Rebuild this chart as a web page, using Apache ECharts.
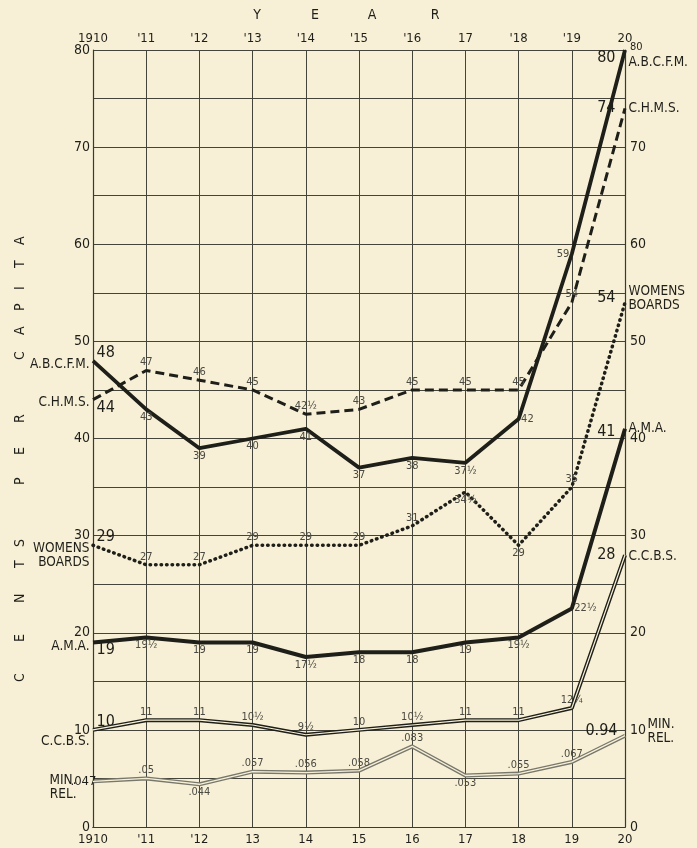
<!DOCTYPE html>
<html>
<head>
<meta charset="utf-8">
<script src="https://cdn.jsdelivr.net/npm/echarts@6/dist/echarts.min.js"></script>
<style>
  html, body { margin: 0; padding: 0; background: #f7f0d6; }
  #chart { width: 697px; height: 848px; }
</style>
</head>
<body>
<div id="chart"></div>
<script>
const years = [1910, 1911, 1912, 1913, 1914, 1915, 1916, 1917, 1918, 1919, 1920]
const topLabels = ['1910', "'11", "'12", "'13", "'14", "'15", "'16", '17', "'18", "'19", '20']
const bottomLabels = ['1910', "'11", "'12", '13', '14', '15', '16', '17', '18', '19', '20']

// cents per capita
const abcfm = [48, 43, 39, 40, 41, 37, 38, 37.5, 42, 59, 80]
const chms = [44, 47, 46, 45, 42.5, 43, 45, 45, 45, 54, 74]
const womensBoards = [29, 27, 27, 29, 29, 29, 31, 34.5, 29, 35, 54]
const ama = [19, 19.5, 19, 19, 17.5, 18, 18, 19, 19.5, 22.5, 41]
const ccbs = [10, 11, 11, 10.5, 9.5, 10, 10.5, 11, 11, 12.25, 28]
// ministerial relief, printed in dollars (plotted as cents)
const minRel = [0.047, 0.05, 0.044, 0.057, 0.056, 0.058, 0.083, 0.053, 0.055, 0.067, 0.094]

const ink = '#1f1f1a'
const paper = '#f7f0d6'
const font = "'Liberation Sans Narrow', 'DejaVu Sans Condensed', 'Liberation Sans', sans-serif"

function frac(v) {
  const w = Math.floor(v)
  const f = v - w
  if (f === 0.5) return w + '½'
  if (f === 0.25) return w + '¼'
  return String(v)
}
function dollars(v) {
  return String(v).replace(/^0/, '')
}

const small = { fontSize: 11, color: '#4a4a42', fontFamily: font }
const big = { fontSize: 16, color: ink, fontFamily: font }
const nameText = { fontSize: 13.5, color: ink, fontFamily: font, lineHeight: 14 }

// label placement for the inner points (1911..1919): t=top, b=bottom, r=right, l=left
function makeSeries(cfg) {
  const n = cfg.values.length
  const data = cfg.values.map((v, i) => {
    const item = { value: [years[i], v * (cfg.scale || 1)] }
    if (i === 0) {
      item.label = Object.assign({ show: true, formatter: cfg.fmtFirst || cfg.fmt(v) }, big, cfg.first)
    } else if (i === n - 1) {
      item.label = Object.assign({ show: true, formatter: cfg.fmtLast || cfg.fmt(v) }, big, cfg.last)
    } else {
      const p = { t: 'top', b: 'bottom', r: 'right', l: 'left' }[cfg.pos[i - 1]]
      item.label = Object.assign({ show: true, position: p, distance: 2, formatter: cfg.fmt(v) }, small)
    }
    return item
  })
  return {
    type: 'line',
    name: cfg.name,
    data: data,
    symbol: 'circle',
    symbolSize: 1,
    itemStyle: { color: 'rgba(0,0,0,0)' },
    lineStyle: cfg.line,
    z: cfg.z || 3,
    animation: false,
    markPoint: {
      symbol: 'circle',
      symbolSize: 1,
      itemStyle: { color: 'rgba(0,0,0,0)' },
      data: [
        { coord: [years[0], cfg.values[0] * (cfg.scale || 1)],
          label: Object.assign({ show: true, position: 'left', formatter: cfg.name, align: 'right' }, nameText, cfg.nameLeft) },
        { coord: [years[n - 1], cfg.values[n - 1] * (cfg.scale || 1)],
          label: Object.assign({ show: true, position: 'right', formatter: cfg.name, align: 'left' }, nameText, cfg.nameRight) }
      ]
    }
  }
}

// thin paper-coloured line over a wide one gives the double-line look
function overlay(values, scale, width) {
  return {
    type: 'line',
    data: values.map((v, i) => [years[i], v * (scale || 1)]),
    showSymbol: false,
    silent: true,
    lineStyle: { color: paper, width: width },
    z: 4,
    animation: false
  }
}

const series = [
  makeSeries({
    name: 'A.B.C.F.M.', values: abcfm, fmt: frac,
    line: { color: ink, width: 3.8 },
    pos: ['b', 'b', 'b', 'b', 'b', 'b', 'b', 'r', 'l'],
    first: { position: 'right', offset: [-2, -8] },
    last: { position: 'left', offset: [-4, 8] },
    nameLeft: { distance: 3, offset: [0, 4] },
    nameRight: { distance: 3, offset: [0, 12] }
  }),
  makeSeries({
    name: 'C.H.M.S.', values: chms, fmt: frac,
    line: { color: ink, width: 3, type: [9, 5] },
    pos: ['t', 't', 't', 't', 't', 't', 't', 't', 't'],
    first: { position: 'right', offset: [-2, 8] },
    last: { position: 'left', offset: [-4, 0] },
    nameLeft: { distance: 3, offset: [0, 3] },
    nameRight: { distance: 3, offset: [0, 0] }
  }),
  makeSeries({
    name: 'WOMENS\nBOARDS', values: womensBoards, fmt: frac,
    line: { color: ink, width: 3.5, type: [0.5, 5], cap: 'round' },
    pos: ['t', 't', 't', 't', 't', 't', 'b', 'b', 't'],
    first: { position: 'right', offset: [-2, -8] },
    last: { position: 'left', offset: [-4, -5] },
    nameLeft: { distance: 3, offset: [0, 10] },
    nameRight: { distance: 3, offset: [0, -4] }
  }),
  makeSeries({
    name: 'A.M.A.', values: ama, fmt: frac,
    line: { color: ink, width: 4 },
    pos: ['b', 'b', 'b', 'b', 'b', 'b', 'b', 'b', 'r'],
    first: { position: 'right', offset: [-2, 7] },
    last: { position: 'left', offset: [-4, 3] },
    nameLeft: { distance: 3, offset: [0, 4] },
    nameRight: { distance: 3, offset: [0, 0] }
  }),
  makeSeries({
    name: 'C.C.B.S.', values: ccbs, fmt: frac,
    line: { color: ink, width: 4 },
    pos: ['t', 't', 't', 't', 't', 't', 't', 't', 't'],
    first: { position: 'right', offset: [-2, -8] },
    last: { position: 'left', offset: [-4, 0] },
    nameLeft: { distance: 3, offset: [0, 12] },
    nameRight: { distance: 3, offset: [0, 1] }
  }),
  makeSeries({
    name: 'MIN.\nREL.', values: minRel, scale: 100, fmt: dollars,
    fmtLast: (minRel[minRel.length - 1] * 10).toFixed(2), // printed "0.94" in the original
    line: { color: '#77776c', width: 4 },
    pos: ['t', 'b', 't', 't', 't', 't', 'b', 't', 't'],
    first: { position: 'left', offset: [9, 0], fontSize: 13 },
    last: { position: 'left', offset: [-2, -5] },
    nameLeft: { distance: 16, offset: [0, 6] },
    nameRight: { distance: 22, offset: [0, -4] }
  }),
  overlay(ccbs, 1, 1.2),
  overlay(minRel, 100, 1.3)
]

const chart = echarts.init(document.getElementById('chart'))

// y axis title, spaced letter by letter (bottom to top, pixel rows in the scan)
const vertical = [
  ['C', 677], ['E', 637], ['N', 598], ['T', 563], ['S', 542],
  ['P', 480], ['E', 450], ['R', 418],
  ['C', 355], ['A', 330], ['P', 306], ['I', 285], ['T', 263], ['A', 240]
]
const nameRich = {}
let yName = ''
vertical.forEach(([ch, y], i) => {
  const w = i < vertical.length - 1 ? y - vertical[i + 1][1] : 10
  nameRich['c' + i] = { width: w, align: 'left', fontSize: 14, fontFamily: font, color: ink }
  yName += '{c' + i + '|' + ch + '}'
})
// trailing pad pushes the title down to where it sits in the scan
nameRich.pad = { width: 40 }
yName += '{pad| }'

const graphics = [['Y', 257], ['E', 315], ['A', 372], ['R', 435]].map(([ch, x]) => ({
  type: 'text', x: x, y: 15,
  style: { text: ch, font: '14px ' + font, fill: ink, align: 'center', verticalAlign: 'middle' }
}))

const yBase = {
  type: 'value', min: 0, max: 80, interval: 5,
  axisTick: { show: false },
  axisLine: { show: true, lineStyle: { color: '#3a3a32', width: 1.2 } }
}

chart.setOption({
  backgroundColor: paper,
  animation: false,
  grid: { left: 93, right: 72, top: 50, bottom: 21 },
  graphic: graphics,
  xAxis: [{
    type: 'value', min: 1910, max: 1920, interval: 1, position: 'bottom',
    axisTick: { show: false },
    axisLine: { show: true, lineStyle: { color: '#3a3a32', width: 1.2 } },
    splitLine: { show: true, lineStyle: { color: '#44443a', width: 1 } },
    axisLabel: { formatter: v => bottomLabels[v - 1910], color: ink, fontSize: 13, margin: 6, fontFamily: font }
  }, {
    type: 'value', min: 1910, max: 1920, interval: 1, position: 'top',
    axisTick: { show: false },
    axisLine: { show: true, lineStyle: { color: '#3a3a32', width: 1.2 } },
    splitLine: { show: false },
    axisLabel: { formatter: v => topLabels[v - 1910], color: ink, fontSize: 13, margin: 5, fontFamily: font }
  }],
  yAxis: [Object.assign({}, yBase, {
    position: 'left',
    name: yName,
    nameLocation: 'middle',
    nameRotate: 90,
    nameGap: 66,
    nameTextStyle: { rich: nameRich },
    splitLine: { show: true, lineStyle: { color: '#44443a', width: 1 } },
    axisLabel: { formatter: v => (v % 10 === 0 ? String(v) : ''), color: ink, fontSize: 14, margin: 3, fontFamily: font }
  }), Object.assign({}, yBase, {
    position: 'right',
    splitLine: { show: false },
    axisLabel: {
      formatter: v => (v % 10 !== 0 ? '' : v === 80 ? '{s|80}' : String(v)),
      color: ink, fontSize: 14, margin: 5, fontFamily: font,
      rich: { s: { fontSize: 11, padding: [0, 0, 6, 0], fontFamily: font, color: ink } }
    }
  })],
  series: series
})
</script>
</body>
</html>
